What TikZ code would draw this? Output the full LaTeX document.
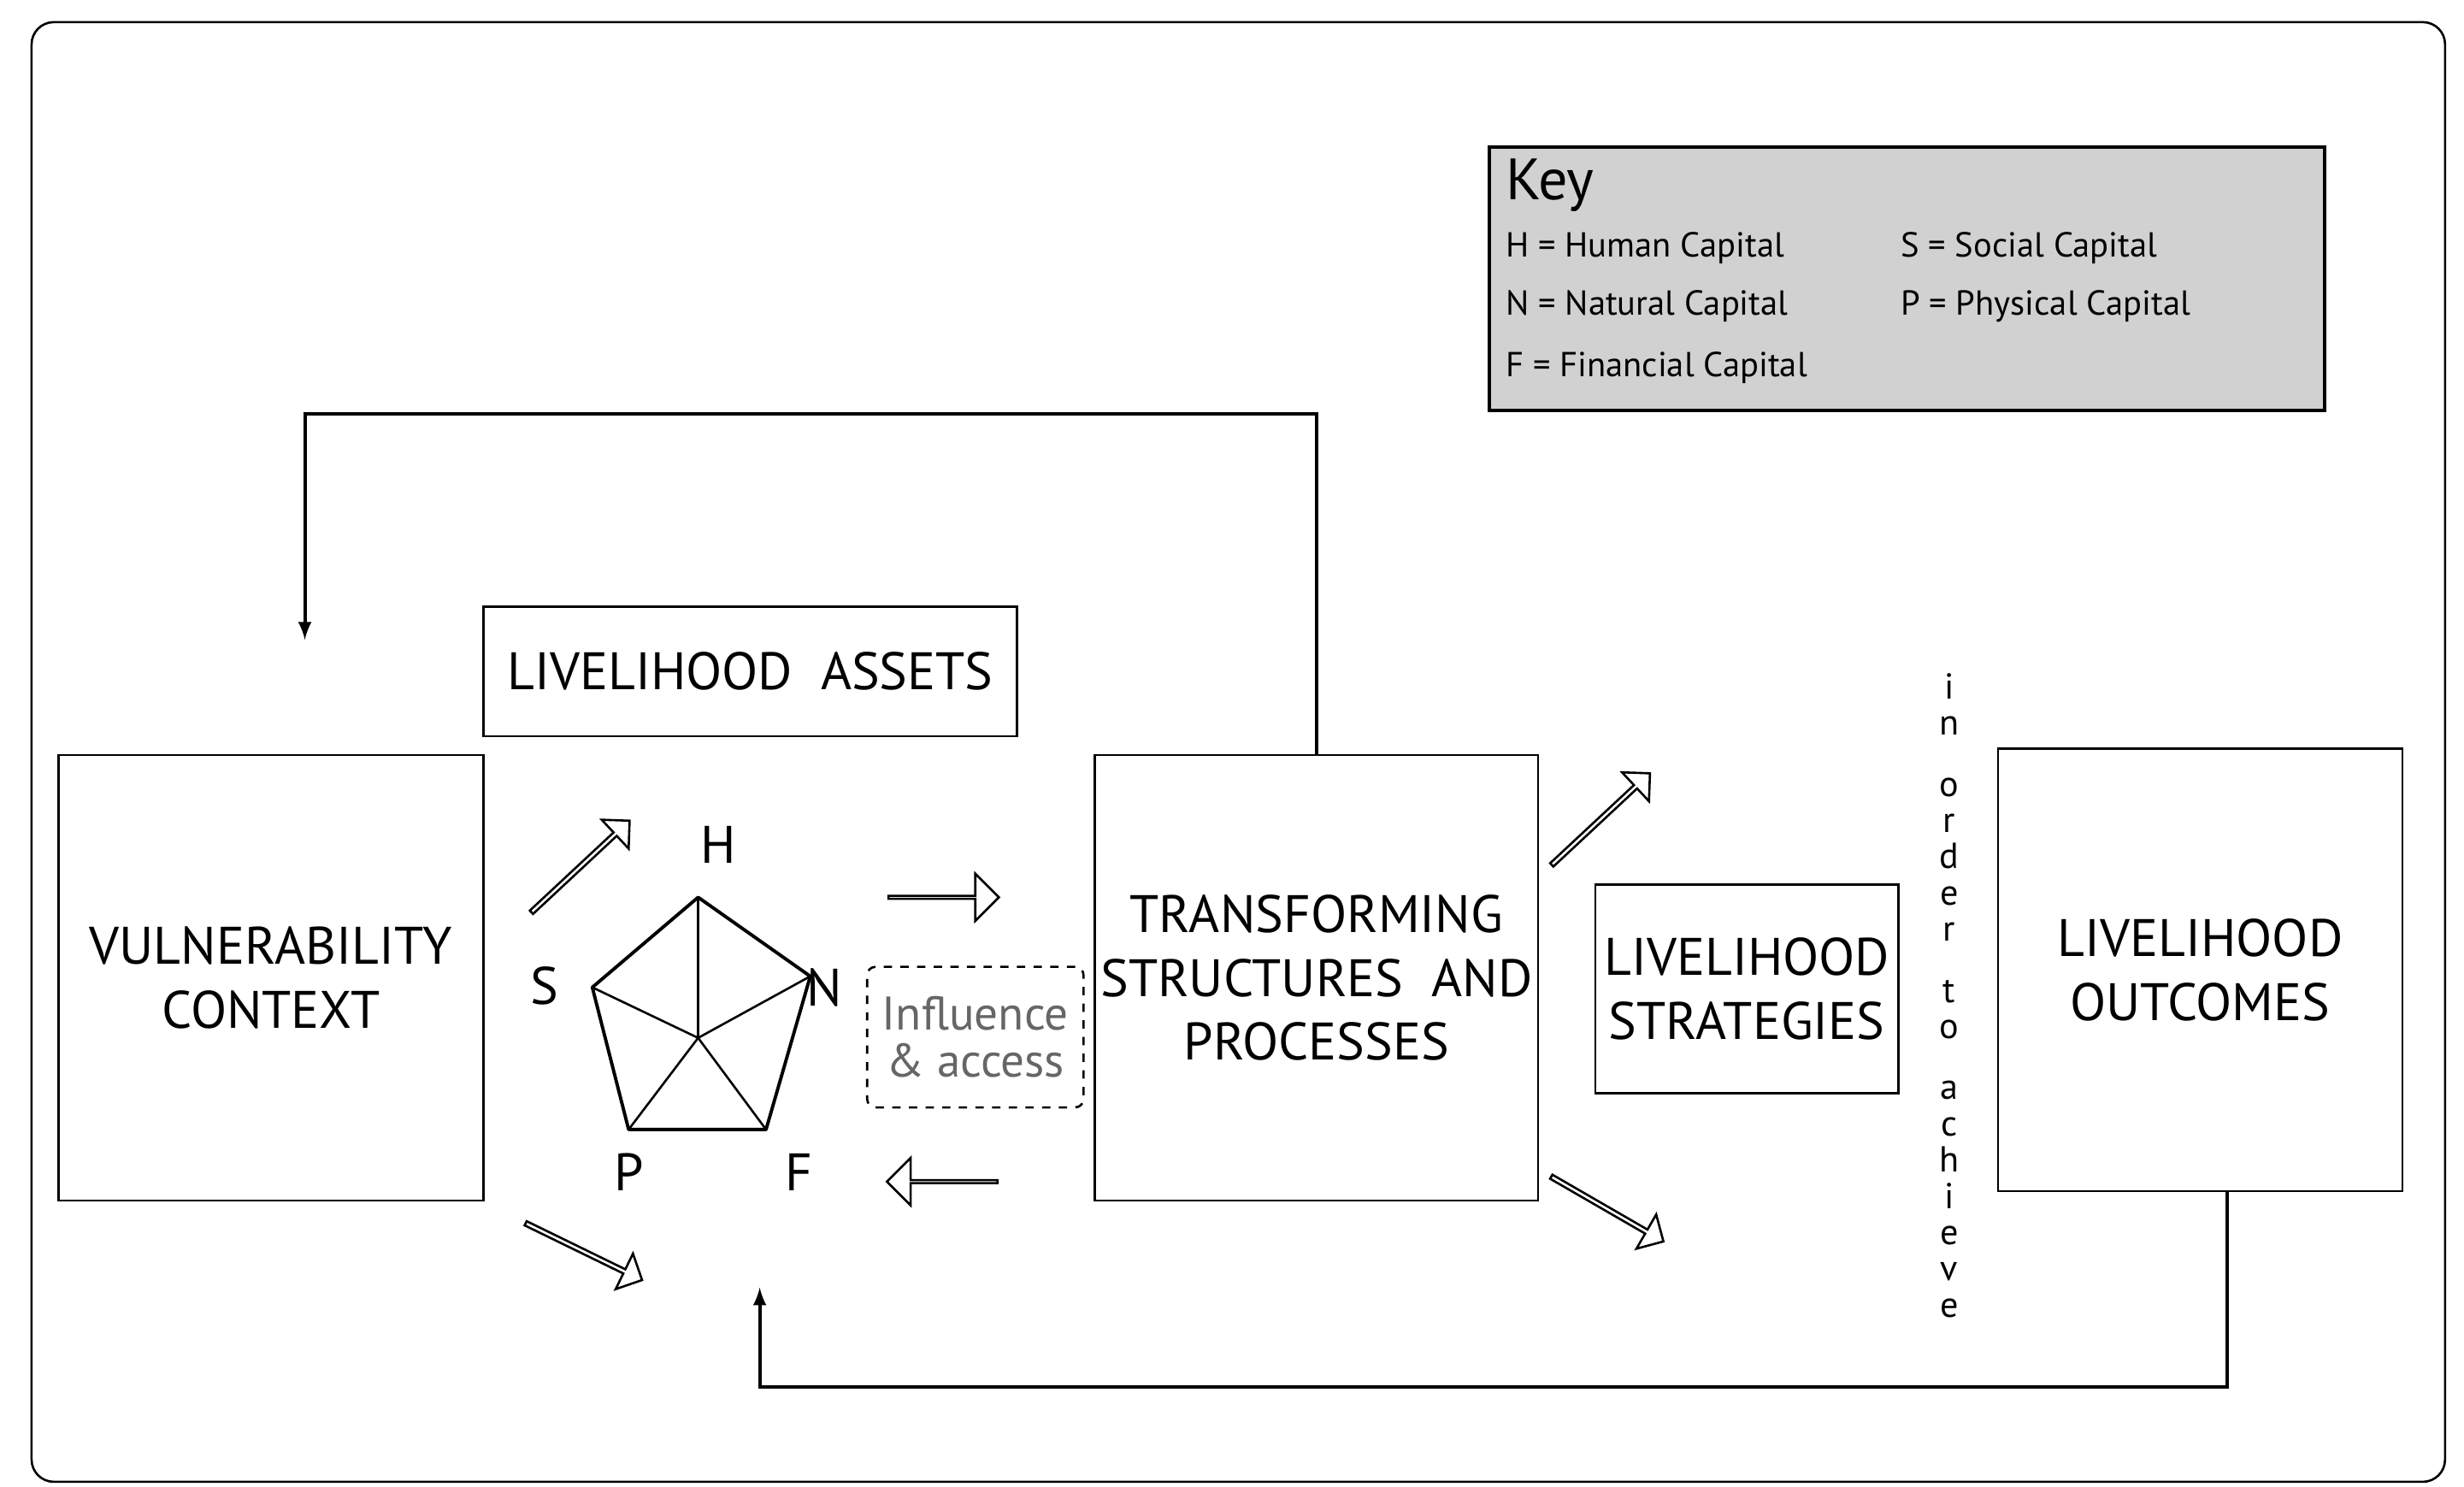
\documentclass[tikz,border=0pt]{standalone}
\usepackage{fontspec}
\setmainfont{PT Sans}
\usetikzlibrary{shapes.arrows}
\tikzstyle{box}=[draw, thick, fill=white, align=center, inner sep=2pt,
               font=\fontsize{19}{23}\selectfont]
\tikzstyle{key-text}=[anchor=west, inner sep=0pt, font=\fontsize{12.5}{14}\selectfont]
\tikzstyle{letter}=[inner sep=0pt, font=\fontsize{19}{23}\selectfont]
\tikzstyle{hollow}=[single arrow, draw, thick, fill=white, inner sep=0pt]
\tikzstyle{loop-edge}=[draw, very thick, -latex]
\begin{document}
\begin{tikzpicture}[x=0.02cm, y=-0.02cm]
    \useasboundingbox (0,0) rectangle (1560,941);
    % Frame and key
    \draw[thick, rounded corners=8pt] (20,14) rectangle (1548,938);
    \node[draw, very thick, fill=black!18, minimum width=10.58cm,
          minimum height=3.34cm, inner sep=0pt] (key) at (1207.5,176.5) {};
    \node[key-text, font=\fontsize{21}{24}\selectfont] (keytitle) at (953,117) {Key};
    \foreach \pos/\name/\txt in {{(953,157)/h/H = Human Capital},
      {(953,194)/n/N = Natural Capital}, {(953,233)/f/F = Financial Capital},
      {(1203,157)/s/S = Social Capital}, {(1203,194)/p/P = Physical Capital}}
      \node[key-text] (key-\name) at \pos {\txt};
    % Boxes
    \node[box, minimum width=5.38cm, minimum height=5.64cm]
      (vuln) at (171.5,619) {VULNERABILITY\\CONTEXT};
    \node[box, minimum width=6.76cm, minimum height=1.64cm]
      (assets) at (475,425) {LIVELIHOOD\ \ ASSETS};
    \node[box, minimum width=5.38cm, minimum height=5.64cm]
      (trans) at (833.5,619) {TRANSFORMING\\STRUCTURES\ \ AND\\PROCESSES};
    \node[box, minimum width=3.84cm, minimum height=2.64cm]
      (strat) at (1106,626) {LIVELIHOOD\\STRATEGIES};
    \node[box, minimum width=5.12cm, minimum height=5.6cm]
      (outc) at (1393,614) {LIVELIHOOD\\OUTCOMES};
    \node[draw, thick, dashed, rounded corners=3pt, align=center, text=black!60,
          inner sep=2pt, minimum width=2.74cm, minimum height=1.78cm,
          font=\fontsize{17}{19}\selectfont] (infl) at (617.5,656.5)
      {Influence\\[-2pt]\&\ access};
    % Pentagon of assets
    \coordinate (ph) at (442,568);
    \coordinate (pn) at (513,618);
    \coordinate (pf) at (485,715);
    \coordinate (pp) at (398,715);
    \coordinate (ps) at (375,625);
    \coordinate (pc) at (442,657);
    \draw[very thick, line join=round] (ph) -- (pn) -- (pf) -- (pp) -- (ps) -- cycle;
    \foreach \name in {ph, pn, pf, pp, ps}
      \draw[thick] (pc) -- (\name);
    \foreach \pos/\name in {{(455,535)/H}, {(522,625)/N}, {(506,742)/F},
      {(398,742)/P}, {(345,624)/S}}
      \node[letter] (lbl-\name) at \pos {\name};
    % Hollow arrows
    \node[hollow, minimum height=1.7cm, minimum width=0.5cm,
          single arrow head extend=3pt, rotate=43] (a1) at (367,549) {};
    \node[hollow, minimum height=1.64cm, minimum width=0.5cm,
          single arrow head extend=3pt, rotate=-26] (a2) at (369,792) {};
    \node[hollow, minimum height=1.4cm, minimum width=0.6cm,
          single arrow head extend=6pt] (a3) at (597,568) {};
    \node[hollow, minimum height=1.4cm, minimum width=0.6cm,
          single arrow head extend=6pt, rotate=180] (a4) at (597,748) {};
    \node[hollow, minimum height=1.7cm, minimum width=0.5cm,
          single arrow head extend=3pt, rotate=43] (a5) at (1013,519) {};
    \node[hollow, minimum height=1.64cm, minimum width=0.5cm,
          single arrow head extend=3pt, rotate=-30] (a6) at (1017,765) {};
    % Vertical text
    \node[align=center, inner sep=0pt, font=\fontsize{13}{13.05}\selectfont]
      (achieve) at (1234,630)
      {i\\n\\[9pt]o\\r\\d\\e\\r\\[9pt]t\\o\\[9pt]a\\c\\h\\i\\e\\v\\e};
    % Feedback loops
    \coordinate (top-end) at (193,405);
    \coordinate (bot-end) at (481,815);
    \coordinate (out-foot) at (1410,754);
    \path[loop-edge] (trans.north) |- (520,262) -| (top-end);
    \path[loop-edge] (out-foot) |- (900,878) -| (bot-end);
\end{tikzpicture}
\end{document}
